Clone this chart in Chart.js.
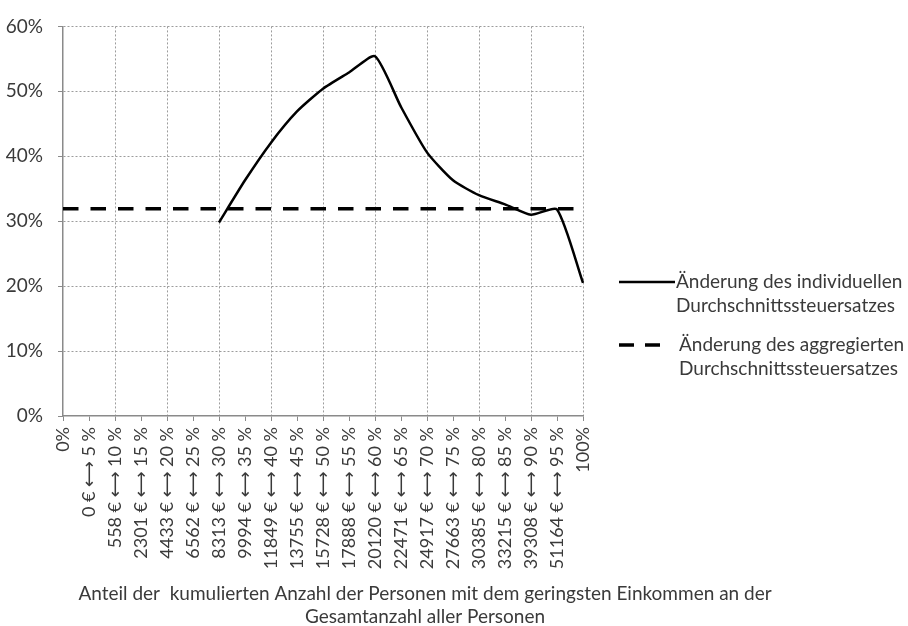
<!DOCTYPE html>
<html lang="de">
<head>
<meta charset="UTF-8">
<title>Änderung des Durchschnittssteuersatzes</title>
<script src="https://cdn.jsdelivr.net/npm/chart.js"></script>
<style>
  html, body { margin: 0; padding: 0; background: #fff; }
</style>
</head>
<body>
<canvas id="grafik" width="908" height="626"></canvas>
<script>
// Kategorien der x-Achse
const kategorien = [
  "0%", "0 € ⟷ 5 %", "558 € ⟷ 10 %", "2301 € ⟷ 15 %", "4433 € ⟷ 20 %",
  "6562 € ⟷ 25 %", "8313 € ⟷ 30 %", "9994 € ⟷ 35 %", "11849 € ⟷ 40 %",
  "13755 € ⟷ 45 %", "15728 € ⟷ 50 %", "17888 € ⟷ 55 %", "20120 € ⟷ 60 %",
  "22471 € ⟷ 65 %", "24917 € ⟷ 70 %", "27663 € ⟷ 75 %", "30385 € ⟷ 80 %",
  "33215 € ⟷ 85 %", "39308 € ⟷ 90 %", "51164 € ⟷ 95 %", "100%"
];

// Werte in Prozent
const individuell = [null, null, null, null, null, null,
  29.8, 36.3, 42.1, 46.9, 50.4, 52.9, 55.4, 47.6, 40.6,
  36.3, 34.0, 32.6, 31.0, 31.8, 20.5];
const aggregiert = [31.9, 31.9, 31.9, 31.9, 31.9, 31.9, 31.9, 31.9, 31.9, 31.9, 31.9,
  31.9, 31.9, 31.9, 31.9, 31.9, 31.9, 31.9, 31.9, 31.9, 31.9];

const yMin = 0, yMax = 60, yStep = 10;

const legendeTexte = [
  ["Änderung des individuellen", "Durchschnittssteuersatzes"],
  ["Änderung des aggregierten", "Durchschnittssteuersatzes"]
];
const achsenTitel = [
  "Anteil der  kumulierten Anzahl der Personen mit dem geringsten Einkommen an der",
  "Gesamtanzahl aller Personen"
];

const schrift = 'Lato, "DejaVu Sans", sans-serif';
const textFarbe = '#3a3a3a';
const gitterFarbe = '#9c9c9c';
const achsenFarbe = '#8a8a8a';

// Legende rechts und Achsentitel unten selbst zeichnen
const beschriftung = {
  id: 'beschriftung',
  afterDraw(chart) {
    const ctx = chart.ctx;
    const ca = chart.chartArea;
    ctx.save();
    ctx.font = '19px ' + schrift;
    ctx.fillStyle = textFarbe;
    ctx.textBaseline = 'middle';
    ctx.textAlign = 'left';

    // Eintrag 1: durchgezogen
    let lx = ca.right + 36, ly = 282;
    ctx.strokeStyle = '#000';
    ctx.lineWidth = 2.5;
    ctx.beginPath();
    ctx.moveTo(lx, ly);
    ctx.lineTo(lx + 56, ly);
    ctx.stroke();
    ctx.fillText(legendeTexte[0][0], lx + 57, ly);
    ctx.fillText(legendeTexte[0][1], lx + 57, ly + 24);

    // Eintrag 2: gestrichelt
    ly = 345;
    ctx.lineWidth = 3.5;
    ctx.setLineDash([15, 11]);
    ctx.beginPath();
    ctx.moveTo(lx, ly);
    ctx.lineTo(lx + 41, ly);
    ctx.stroke();
    ctx.setLineDash([]);
    ctx.fillText(legendeTexte[1][0], lx + 60, ly);
    ctx.fillText(legendeTexte[1][1], lx + 60, ly + 24);

    // Achsentitel
    ctx.textAlign = 'center';
    ctx.fillText(achsenTitel[0], 425, 594);
    ctx.fillText(achsenTitel[1], 425, 617);
    ctx.restore();
  }
};

new Chart(document.getElementById('grafik').getContext('2d'), {
  type: 'line',
  data: {
    labels: kategorien,
    datasets: [{
      label: legendeTexte[0].join(' '),
      data: individuell,
      borderColor: '#000',
      borderWidth: 2.5,
      pointRadius: 0,
      tension: 0.2,
      fill: false
    }, {
      label: legendeTexte[1].join(' '),
      data: aggregiert,
      borderColor: '#000',
      borderWidth: 3.5,
      borderDash: [15.5, 12],
      pointRadius: 0,
      tension: 0,
      fill: false
    }]
  },
  options: {
    responsive: false,
    animation: false,
    devicePixelRatio: 1,
    layout: { padding: { top: 20, right: 325, left: 0, bottom: 0 } },
    plugins: {
      legend: { display: false },
      tooltip: { enabled: false }
    },
    scales: {
      x: {
        offset: false,
        grid: {
          color: c => (c.index > 0 && c.index % 2 === 0) ? gitterFarbe : 'rgba(0,0,0,0)',
          tickColor: achsenFarbe,
          tickLength: 5
        },
        border: { color: achsenFarbe, width: 1.5, dash: [2, 2] },
        ticks: {
          autoSkip: false,
          minRotation: 90,
          maxRotation: 90,
          padding: 6,
          color: textFarbe,
          font: { family: schrift, size: 18 }
        },
        afterFit: s => { s.height = 210; }
      },
      y: {
        min: yMin,
        max: yMax,
        grid: {
          color: c => c.tick.value === 0 ? 'rgba(0,0,0,0)' : gitterFarbe,
          tickColor: achsenFarbe,
          tickLength: 5
        },
        border: { color: achsenFarbe, width: 1.5, dash: [2, 2] },
        ticks: {
          stepSize: yStep,
          padding: 15,
          color: textFarbe,
          font: { family: schrift, size: 19 },
          callback: v => v + '%'
        },
        afterFit: s => { s.width = 63; }
      }
    }
  },
  plugins: [beschriftung]
});
</script>
</body>
</html>
